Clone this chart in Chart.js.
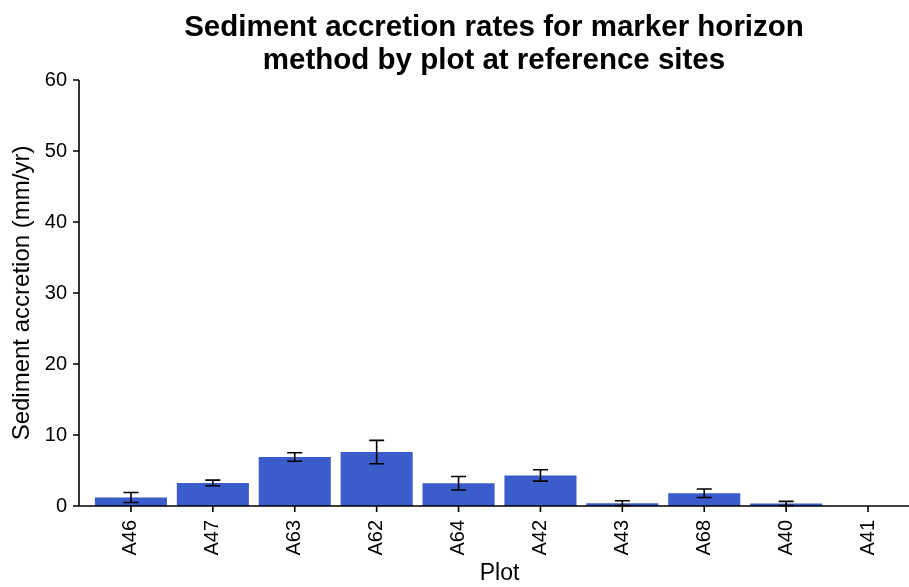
<!DOCTYPE html>
<html>
<head>
<meta charset="utf-8">
<title>Sediment accretion</title>
<script src="https://cdn.jsdelivr.net/npm/chart.js@4/dist/chart.umd.min.js"></script>
<style>
  html, body { margin: 0; padding: 0; background: #fff; }
  canvas { display: block; }
</style>
</head>
<body>
<canvas id="myChart" width="909" height="587"></canvas>
<script>
// plots at reference sites, mean accretion (mm/yr) and the +/- error
var plots = ['A46', 'A47', 'A63', 'A62', 'A64', 'A42', 'A43', 'A68', 'A40', 'A41'];
var accretion = [1.2, 3.25, 6.9, 7.6, 3.2, 4.3, 0.4, 1.8, 0.35, 0];
var accretionErr = [0.7, 0.4, 0.6, 1.65, 0.95, 0.8, 0.35, 0.6, 0.3, 0];
var titleLines = ['Sediment accretion rates for marker horizon', 'method by plot at reference sites'];

var fontFamily = '"Liberation Sans", Arial, sans-serif';
var axisX = 79; // the y axis line sits a little left of the first bar gap

// black error bars plus the axis lines and tick marks
var errorBars = {
    id: 'errorBars',
    afterDatasetsDraw: function (chart) {
        var ctx = chart.ctx;
        var xs = chart.scales.x, ys = chart.scales.y;
        var area = chart.chartArea;
        ctx.save();
        ctx.strokeStyle = '#000';
        ctx.lineWidth = 1.6;
        for (var i = 0; i < plots.length; i++) {
            if (!accretionErr[i]) continue;
            var x = xs.getPixelForValue(i);
            var top = ys.getPixelForValue(accretion[i] + accretionErr[i]);
            var bot = ys.getPixelForValue(Math.max(accretion[i] - accretionErr[i], 0));
            ctx.beginPath();
            ctx.moveTo(x, top); ctx.lineTo(x, bot);
            ctx.moveTo(x - 7.5, top); ctx.lineTo(x + 7.5, top);
            ctx.moveTo(x - 7.5, bot); ctx.lineTo(x + 7.5, bot);
            ctx.stroke();
        }
        // axes
        ctx.beginPath();
        ctx.moveTo(axisX, area.top); ctx.lineTo(axisX, area.bottom);
        ctx.lineTo(area.right, area.bottom);
        ys.ticks.forEach(function (t) {
            var y = ys.getPixelForValue(t.value);
            ctx.moveTo(axisX - 6, y); ctx.lineTo(axisX, y);
        });
        for (var j = 0; j < plots.length; j++) {
            var px = xs.getPixelForValue(j);
            ctx.moveTo(px, area.bottom); ctx.lineTo(px, area.bottom + 6);
        }
        ctx.stroke();
        // two-line title, centred over the axes
        ctx.fillStyle = '#000';
        ctx.font = 'bold 29.5px ' + fontFamily;
        ctx.textAlign = 'center';
        ctx.textBaseline = 'middle';
        var cx = (axisX + area.right) / 2;
        titleLines.forEach(function (line, k) {
            ctx.fillText(line, cx, 28 + k * 33);
        });
        ctx.restore();
    }
};

function createChart() {
    var ctx = document.getElementById('myChart').getContext('2d');
    return new Chart(ctx, {
        type: 'bar',
        data: {
            labels: plots,
            datasets: [{
                data: accretion,
                backgroundColor: '#3A5DCB',
                barPercentage: 0.88,
                categoryPercentage: 1.0
            }]
        },
        options: {
            responsive: false,
            animation: false,
            layout: { padding: { top: 80, right: 0, bottom: 0, left: 0 } },
            plugins: {
                legend: { display: false },
                title: { display: false },
                tooltip: { enabled: false }
            },
            scales: {
                x: {
                    offset: true,
                    grid: { display: false, drawTicks: false },
                    border: { display: false },
                    ticks: {
                        color: '#000',
                        font: { family: fontFamily, size: 20 },
                        minRotation: 90,
                        maxRotation: 90,
                        padding: 14,
                        autoSkip: false
                    },
                    title: {
                        display: true,
                        text: 'Plot',
                        color: '#000',
                        font: { family: fontFamily, size: 23 },
                        lineHeight: 1.1,
                        padding: { top: 0, bottom: 0 }
                    },
                    afterFit: function (scale) { scale.height = 81; }
                },
                y: {
                    min: 0,
                    max: 60,
                    grid: { display: false, drawTicks: false },
                    border: { display: false },
                    ticks: {
                        stepSize: 10,
                        color: '#000',
                        font: { family: fontFamily, size: 20 },
                        padding: 23
                    },
                    title: {
                        display: true,
                        text: 'Sediment accretion (mm/yr)',
                        color: '#000',
                        font: { family: fontFamily, size: 24 },
                        lineHeight: 1.2,
                        padding: { top: 8, bottom: 0 }
                    },
                    afterFit: function (scale) { scale.width = 90; }
                }
            }
        },
        plugins: [errorBars]
    });
}

createChart();
</script>
</body>
</html>
